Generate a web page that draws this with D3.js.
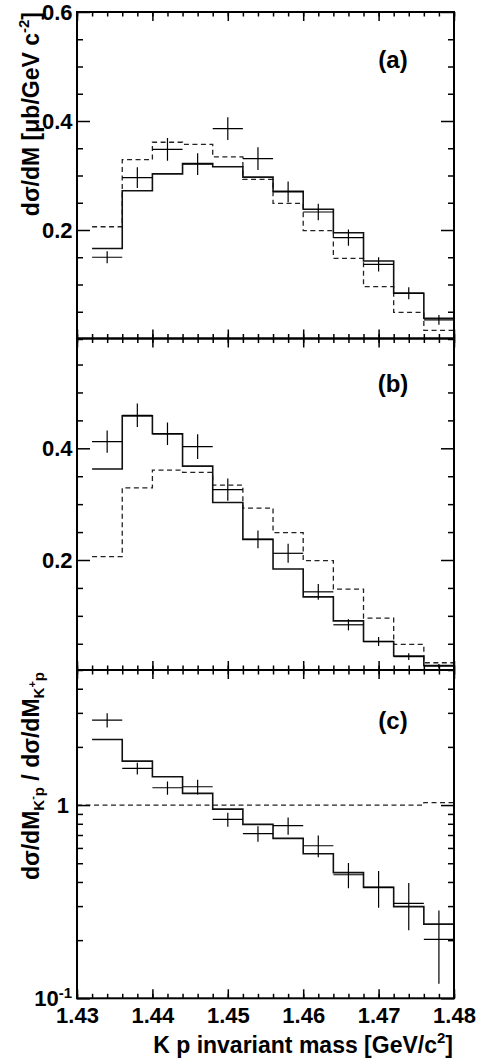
<!DOCTYPE html>
<html><head><meta charset="utf-8">
<script src="https://cdn.jsdelivr.net/npm/d3@7"></script>
<style>
html,body{margin:0;padding:0;background:#fff;}
svg text{font-family:"Liberation Sans",Arial,Helvetica,sans-serif;font-weight:bold;fill:#000;}
</style></head>
<body>
<svg id="c" width="479" height="1064"></svg>
<script>
// ---- data ----
const binEdges = [1.432,1.436,1.440,1.444,1.448,1.452,1.456,1.460,1.464,1.468,1.472,1.476,1.480];
// K+p reference (dashed, panels a and b)
const kpDashed = [0.206,0.329,0.361,0.357,0.334,0.293,0.249,0.199,0.148,0.096,0.049,0.016];
// panel (a)
const aModel = [0.166,0.272,0.303,0.322,0.316,0.297,0.271,0.238,0.195,0.143,0.084,0.038];
const aData  = [0.150,0.296,0.348,0.321,0.386,0.331,0.270,0.233,0.186,0.137,0.084,0.035];
const aErr   = [0.011,0.019,0.021,0.020,0.021,0.021,0.019,0.015,0.015,0.013,0.011,0.009];
// panel (b)
const bModel = [0.363,0.458,0.426,0.368,0.303,0.237,0.184,0.134,0.091,0.054,0.028,0.011];
const bData  = [0.412,0.459,0.426,0.403,0.326,0.237,0.212,0.143,0.084,0.054,0.027,0.010];
const bErr   = [0.020,0.021,0.020,0.022,0.020,0.016,0.017,0.014,0.010,0.008,0.006,0.004];
// panel (c) ratio
const cModel = [2.186,1.689,1.402,1.149,0.953,0.794,0.672,0.560,0.447,0.375,0.298,0.242];
const cData  = [2.753,1.548,1.229,1.244,0.843,0.711,0.782,0.616,0.436,0.375,0.310,0.202];
const cErr   = [0.230,0.110,0.097,0.110,0.070,0.066,0.080,0.079,0.065,0.081,0.085,0.083];
const cDashed= [1,1,1,1,1,1,1,1,1,1,1,1.03];
// ticks
const xMajor = [1.43,1.44,1.45,1.46,1.47,1.48];
const xLabels = ["1.43","1.44","1.45","1.46","1.47","1.48"];
const yMajorA = [0.2,0.4,0.6];
const yMajorB = [0.2,0.4];
const yMajorC = [0.1,1];
const yMinorC = [0.2,0.3,0.4,0.5,0.6,0.7,0.8,0.9,2,3,4,5];
const panelLabels = ["(a)","(b)","(c)"];

// ---- layout ----
const svg = d3.select("#c");
const L = 77, R = 454;
const x = d3.scaleLinear().domain([1.43,1.48]).range([L,R]);
const panels = [
  {top:12, bottom:338.5, y:d3.scaleLinear().domain([0,0.6]).range([339,12]),
   major:yMajorA, minor:d3.scaleLinear().domain([0,0.6]).ticks(12), fmt:d=>d3.format(".1f")(d),
   model:aModel, data:aData, err:aErr, dashed:kpDashed, label:panelLabels[0], labelY:68, dashStart:null},
  {top:338.5, bottom:670, y:d3.scaleLinear().domain([0,0.6]).range([671.7,336.6]),
   major:yMajorB, minor:d3.scaleLinear().domain([0,0.6]).ticks(12), fmt:d=>d3.format(".1f")(d),
   model:bModel, data:bData, err:bErr, dashed:kpDashed, label:panelLabels[1], labelY:391.5, dashStart:null},
  {top:670, bottom:998.3, y:d3.scaleLog().domain([0.1,5]).range([998.3,670]),
   major:yMajorC, minor:yMinorC, fmt:null,
   model:cModel, data:cData, err:cErr, dashed:cDashed, label:panelLabels[2], labelY:728.5, dashStart:1.43}
];

const xMinor = x.ticks(25);

function stepPts(vals, startX){
  const pts = vals.map((v,i)=>[i===0 && startX!=null ? startX : binEdges[i], v]);
  pts.push([binEdges[binEdges.length-1], vals[vals.length-1]]);
  return pts;
}

panels.forEach((p,pi)=>{
  const y = p.y;
  const g = svg.append("g");
  const clipId = "clip"+pi;
  svg.append("clipPath").attr("id",clipId).append("rect")
    .attr("x",L).attr("y",p.top).attr("width",R-L).attr("height",p.bottom-p.top);
  const plot = g.append("g").attr("clip-path",`url(#${clipId})`);
  const line = d3.line().x(d=>x(d[0])).y(d=>y(d[1])).curve(d3.curveStepAfter);

  // dashed reference
  plot.append("path").attr("d", line(stepPts(p.dashed, p.dashStart)))
    .attr("fill","none").attr("stroke","#222").attr("stroke-width",1.3).attr("stroke-dasharray","5,3.5");
  // model histogram
  plot.append("path").attr("d", line(stepPts(p.model, null)))
    .attr("fill","none").attr("stroke","#111").attr("stroke-width",1.6);
  // data points with error bars
  const pts = plot.append("g").attr("stroke","#000").attr("stroke-width",1.2);
  p.data.forEach((v,i)=>{
    const x0 = binEdges[i], x1 = binEdges[i+1], xm = (x0+x1)/2;
    pts.append("line").attr("x1",x(x0)).attr("x2",x(x1)).attr("y1",y(v)).attr("y2",y(v));
    pts.append("line").attr("x1",x(xm)).attr("x2",x(xm)).attr("y1",y(v-p.err[i])).attr("y2",y(v+p.err[i]));
  });

  // axes (ticks inside)
  const axG = g.append("g").attr("stroke-width",1.5);
  const mk = (sel)=>{ sel.select(".domain").remove(); sel.selectAll("line").attr("stroke","#000").attr("stroke-width",1.5); };
  // bottom x
  axG.append("g").attr("transform",`translate(0,${p.bottom})`)
    .call(d3.axisBottom(x).tickValues(xMinor).tickSize(-4.5).tickFormat("")).call(mk);
  const xb = axG.append("g").attr("transform",`translate(0,${p.bottom})`)
    .call(d3.axisBottom(x).tickValues(xMajor).tickSize(-9).tickPadding(9)
      .tickFormat((d,i)=> pi===2 ? xLabels[i] : "")).call(mk);
  xb.selectAll("text").attr("font-size",22).attr("font-family",null);
  // top x
  axG.append("g").attr("transform",`translate(0,${p.top})`)
    .call(d3.axisTop(x).tickValues(xMinor).tickSize(-4.5).tickFormat("")).call(mk);
  axG.append("g").attr("transform",`translate(0,${p.top})`)
    .call(d3.axisTop(x).tickValues(xMajor).tickSize(-9).tickFormat("")).call(mk);
  // left y
  const minorVals = p.minor.filter(v=>p.major.indexOf(v)<0 && y(v)>=p.top-0.5 && y(v)<=p.bottom+0.5);
  axG.append("g").attr("transform",`translate(${L},0)`)
    .call(d3.axisLeft(y).tickValues(minorVals).tickSize(-6).tickFormat("")).call(mk);
  const yl = axG.append("g").attr("transform",`translate(${L},0)`)
    .call(d3.axisLeft(y).tickValues(p.major).tickSize(-13).tickPadding(4.5)
      .tickFormat(p.fmt ? p.fmt : (()=>""))).call(mk);
  yl.selectAll("text").attr("font-size",22).attr("font-family",null);
  if(pi===2){
    yl.selectAll(".tick").each(function(d){
      const t = d3.select(this).select("text");
      if(d===1){ t.text("1").attr("x",-8); }
      else {
        t.text("").attr("x",-5);
        t.append("tspan").text("10");
        t.append("tspan").text("-1").attr("font-size",15).attr("dy","-0.55em");
      }
    });
  }
  // right y
  axG.append("g").attr("transform",`translate(${R},0)`)
    .call(d3.axisRight(y).tickValues(minorVals).tickSize(-6).tickFormat("")).call(mk);
  axG.append("g").attr("transform",`translate(${R},0)`)
    .call(d3.axisRight(y).tickValues(p.major).tickSize(-13).tickFormat("")).call(mk);

  // frame
  g.append("rect").attr("x",L).attr("y",p.top).attr("width",R-L).attr("height",p.bottom-p.top)
    .attr("fill","none").attr("stroke","#000").attr("stroke-width",2);

  // panel label
  g.append("text").attr("x",393).attr("y",p.labelY).attr("text-anchor","middle")
    .attr("font-size",24).text(p.label);
});

// y title panel a
const ta = svg.append("text").attr("transform","translate(39,12) rotate(-90)")
  .attr("text-anchor","end").attr("font-size",23);
ta.append("tspan").text("dσ/dM [μb/GeV c");
ta.append("tspan").text("-2").attr("font-size",15).attr("dy",-10);
ta.append("tspan").text("]").attr("dy",10);

// y title panel c
const tc = svg.append("text").attr("transform","translate(39,672) rotate(-90)")
  .attr("text-anchor","end").attr("font-size",23);
tc.append("tspan").text("dσ/dM");
tc.append("tspan").text("K").attr("font-size",15).attr("dy",5);
tc.append("tspan").text("-").attr("font-size",11).attr("dy",-8);
tc.append("tspan").text("p").attr("font-size",15).attr("dy",8);
tc.append("tspan").text(" / dσ/dM").attr("dy",-5);
tc.append("tspan").text("K").attr("font-size",15).attr("dy",5);
tc.append("tspan").text("+").attr("font-size",11).attr("dy",-8);
tc.append("tspan").text("p").attr("font-size",15).attr("dy",8);

// x title
const tx = svg.append("text").attr("x",453).attr("y",1053).attr("text-anchor","end").attr("font-size",23);
tx.append("tspan").text("K p invariant mass [GeV/c");
tx.append("tspan").text("2").attr("font-size",15).attr("dy",-10);
tx.append("tspan").text("]").attr("dy",10);
</script>
</body></html>
